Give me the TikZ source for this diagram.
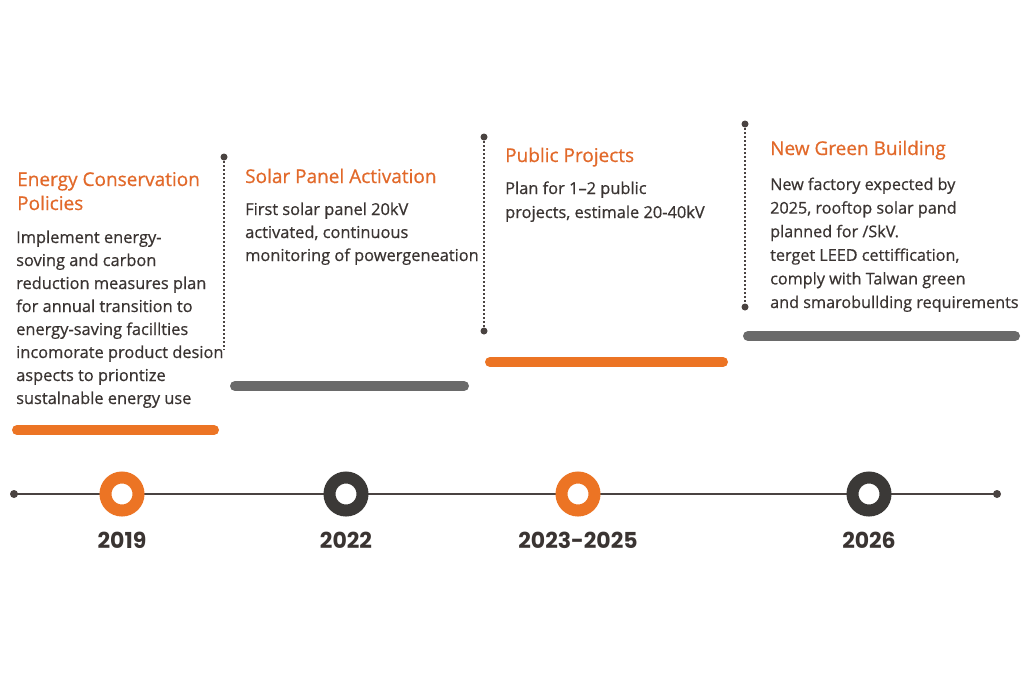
\documentclass[tikz,border=0pt]{standalone}
\usepackage{fontspec}
\setmainfont{Open Sans}
\newfontfamily\medfont{Open Sans}[FakeBold=0.6]
\newfontfamily\yearfont{Poppins}
\definecolor{orng}{HTML}{EC7424}
\definecolor{ttl}{HTML}{E2692A}
\definecolor{txt}{HTML}{3A3432}
\definecolor{dark}{HTML}{3B3937}
\definecolor{barg}{HTML}{6A6A6A}
\definecolor{axis}{HTML}{4A4341}
\begin{document}
\begin{tikzpicture}[x=1pt,y=-1pt,
 title/.style={anchor=base west, align=left, inner sep=0, text=ttl, font=\medfont\fontsize{19}{24}\selectfont},
 body/.style={anchor=base west, align=left, inner sep=0, text=txt, font=\medfont\fontsize{16.4}{23}\selectfont},
 bar/.style={line width=10pt, line cap=round},
 ring/.style={circle, draw=#1, line width=12pt, minimum size=33pt, fill=white, inner sep=0},
 year/.style={anchor=base, inner sep=0, text=txt, font=\yearfont\fontsize{22}{22}\selectfont\bfseries},
 dot/.style={circle, fill=axis, inner sep=0, minimum size=#1},
 dot/.default=8pt,
 guide/.style={dash pattern=on 2pt off 2pt, line width=1.5pt, draw=axis}
]
\useasboundingbox[fill=white] (0,0) rectangle (1024,683);

% timeline
\node[dot] (s) at (14,494) {};
\node[dot] (e) at (997,494) {};
\draw[axis, line width=2pt] (s.center) -- (e.center);
\node[ring=orng] (r1) at (122,494) {};
\node[ring=dark] (r2) at (346,494) {};
\node[ring=orng] (r3) at (578,494) {};
\node[ring=dark] (r4) at (869,494) {};
\node[year] (y1) at (122,548) {2019};
\node[year] (y2) at (346,548) {2022};
\node[year] (y3) at (578,548) {2023-2025};
\node[year] (y4) at (869,548) {2026};

% bars
\coordinate (b1a) at (17,430); \coordinate (b1b) at (214,430);
\coordinate (b2a) at (235,386); \coordinate (b2b) at (464,386);
\coordinate (b3a) at (490,362); \coordinate (b3b) at (723,362);
\coordinate (b4a) at (748,336); \coordinate (b4b) at (1015,336);
\draw[bar, orng] (b1a) -- (b1b);
\draw[bar, barg] (b2a) -- (b2b);
\draw[bar, orng] (b3a) -- (b3b);
\draw[bar, barg] (b4a) -- (b4b);

% guides
\node[dot=7pt] (g1t) at (224,157) {};
\coordinate (g1b) at (224,350);
\draw[guide] (g1t.center) -- (g1b);
\node[dot=7pt] (g2t) at (484,137) {};
\node[dot=7pt] (g2b) at (484,331) {};
\draw[guide] (g2t.center) -- (g2b.center);
\node[dot=7pt] (g3t) at (745,124) {};
\node[dot=7pt] (g3b) at (745,307) {};
\draw[guide] (g3t.center) -- (g3b.center);

% texts (anchor = baseline of last line)
\node[title] (t1) at (17,210) {Energy Conservation\\Policies};
\node[body] (d1) at (16,404) {Implement energy-\\soving and carbon\\reduction measures plan\\for annual transition to\\energy-saving facillties\\incomorate product desion\\aspects to priontize\\sustalnable energy use};
\node[title] (t2) at (245,183) {Solar Panel Activation};
\node[body] (d2) at (245,261) {First solar panel 20kV\\activated, continuous\\monitoring of powergeneation};
\node[title] (t3) at (505,162) {Public Projects};
\node[body, font=\medfont\fontsize{16.4}{24}\selectfont] (d3) at (505,218) {Plan for 1–2 public\\projects, estimale 20-40kV};
\node[title] (t4) at (770,155) {New Green Building};
\node[body, font=\medfont\fontsize{16.2}{23.6}\selectfont] (d4) at (770,308) {New factory expected by\\2025, rooftop solar pand\\planned for /SkV.\\terget LEED cettiffication,\\comply with Talwan green\\and smarobullding requirements};
\end{tikzpicture}
\end{document}
